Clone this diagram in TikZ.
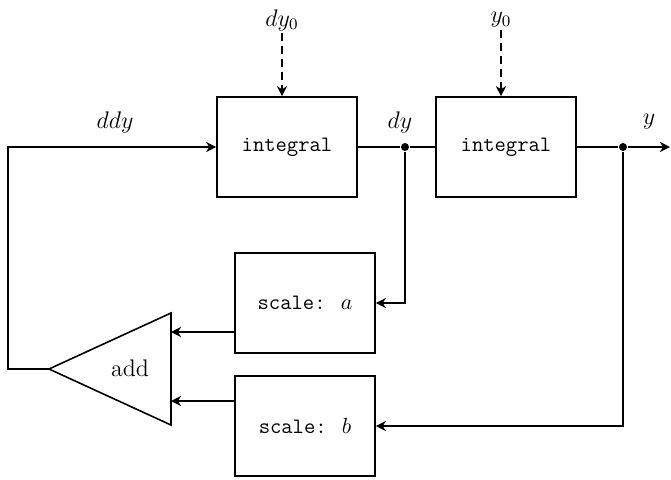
\documentclass[tikz,border=0pt]{standalone}
\usetikzlibrary{arrows.meta}
\tikzstyle{block}=[draw, rectangle, line width=0.8pt, minimum width=70pt, minimum height=50pt, inner sep=0pt, font=\fontsize{11}{13}\selectfont\ttfamily]
\tikzstyle{junction}=[circle, fill=black, inner sep=0pt, minimum size=4pt]
\tikzstyle{signal}=[font=\large, inner sep=1pt]
\newcommand{\block}{\node[block]}
\newcommand{\junction}{\node[junction]}
\begin{document}
\begin{tikzpicture}[x=0.5pt, y=-0.5pt, line width=0.8pt, >={Stealth[length=5pt, width=5pt, inset=1.5pt]}]
\useasboundingbox (0,0) rectangle (671,479);

\block (int1) at (287,147) {integral};
    \block (int2) at (506,147) {integral};
    \block (scalea) at (305,303) {scale: $a$};
    \block (scaleb) at (305,426) {scale: $b$};
    \junction (j1) at (405,147) {};
    \junction (j2) at (623,147) {};
    % adder
    \coordinate (addtip) at (49,369);
    \coordinate (addtop) at (171,313);
    \coordinate (addbot) at (171,425);
    \draw (addtip) -- (addtop) -- (addbot) -- cycle;
    \node[font=\large] (add) at (130,368) {add};
    \coordinate (ina) at (171,332);
    \coordinate (inb) at (171,401);
    \coordinate (fb) at (8,369);
    \coordinate (out) at (670,147);
    % labels
    \node[signal] (dy0) at (282,20) {$dy_0$};
    \node[signal] (y0) at (501,20) {$y_0$};
    \node[signal] (ddy) at (115,122) {$ddy$};
    \node[signal] (dy) at (400,122) {$dy$};
    \node[signal] (y) at (649,122) {$y$};
    ;
    \draw[->, dash pattern=on 4pt off 2.5pt] (dy0) -- (dy0 |- int1.north);
    \draw[->, dash pattern=on 4pt off 2.5pt] (y0) -- (y0 |- int2.north);
    \draw[->] (addtip) -- (fb) |- (int1.west);
    \draw (int1.east) -- (j1) -- (int2.west);
    \draw[->] (int2.east) -- (j2) -- (out);
    \draw[->] (j1) |- (scalea.east);
    \draw[->] (j2) |- (scaleb.east);
    \draw[->] (scalea.west |- ina) -- (ina);
    \draw[->] (scaleb.west |- inb) -- (inb);
\end{tikzpicture}
\end{document}
